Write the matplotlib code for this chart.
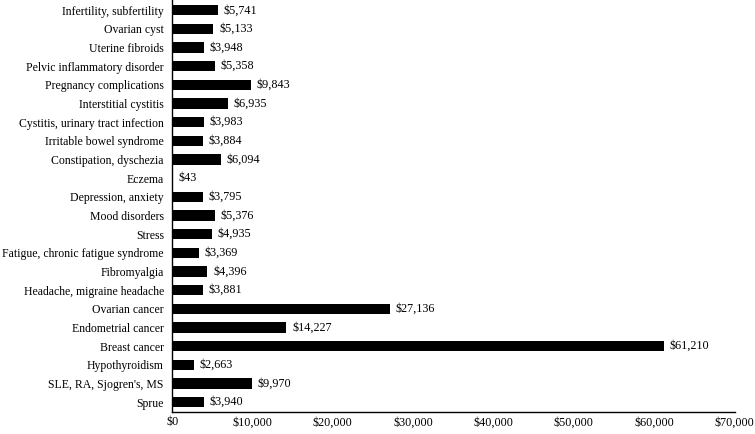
import matplotlib.pyplot as plt
from matplotlib.ticker import FuncFormatter

conditions = [
    'Infertility, subfertility', 'Ovarian cyst', 'Uterine fibroids',
    'Pelvic inflammatory disorder', 'Pregnancy complications',
    'Interstitial cystitis', 'Cystitis, urinary tract infection',
    'Irritable bowel syndrome', 'Constipation, dyschezia', 'Eczema',
    'Depression, anxiety', 'Mood disorders', 'Stress',
    'Fatigue, chronic fatigue syndrome', 'Fibromyalgia',
    'Headache, migraine headache', 'Ovarian cancer', 'Endometrial cancer',
    'Breast cancer', 'Hypothyroidism', "SLE, RA, Sjogren's, MS", 'Sprue',
]
costs = [5741, 5133, 3948, 5358, 9843, 6935, 3983, 3884, 6094, 43,
         3795, 5376, 4935, 3369, 4396, 3881, 27136, 14227, 61210, 2663,
         9970, 3940]

plt.rcParams['font.family'] = ['Liberation Serif', 'DejaVu Serif']

fig = plt.figure(figsize=(7.55, 4.34), dpi=100)
ax = fig.add_axes([0.228, 0.05, 0.745, 0.95])

ypos = list(range(len(conditions)))
ax.barh(ypos, costs, height=0.56, color='black')
for y, v in zip(ypos, costs):
    ax.text(v + 700, y, f'${v:,}', va='center', ha='left', fontsize=8.7)

ax.set_yticks(ypos)
ax.set_yticklabels(conditions, fontsize=8.5)
ax.set_ylim(len(conditions) - 0.45, -0.55)
ax.set_xlim(0, 70000)
ax.set_xticks(range(0, 70001, 10000))
ax.xaxis.set_major_formatter(FuncFormatter(lambda x, p: f'${int(x):,}'))
ax.tick_params(axis='x', length=0, labelsize=8.7, pad=3)
ax.tick_params(axis='y', length=0, pad=6)
for s in ['top', 'right']:
    ax.spines[s].set_visible(False)
ax.spines['left'].set_linewidth(1.0)
ax.spines['bottom'].set_linewidth(1.0)

fig.savefig('out.png', dpi=100)
